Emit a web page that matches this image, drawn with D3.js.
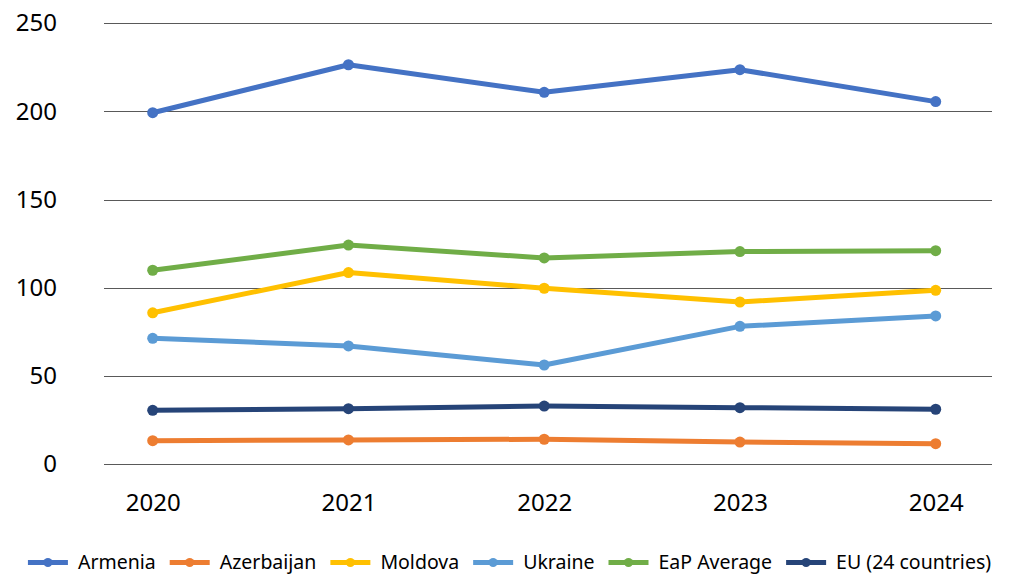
<!DOCTYPE html>
<html>
<head>
<meta charset="utf-8">
<script src="https://cdn.jsdelivr.net/npm/d3@7"></script>
<style>
  html, body { margin: 0; padding: 0; background: #fff; }
  svg { display: block; font-family: "Noto Sans", "Open Sans", sans-serif; }
</style>
</head>
<body>
<svg id="chart" width="1011" height="576"></svg>
<script>
const years = ["2020", "2021", "2022", "2023", "2024"];
const seriesNames = ["Armenia", "Azerbaijan", "Moldova", "Ukraine", "EaP Average", "EU (24 countries)"];
const armenia    = [199.3, 226.5, 210.9, 223.7, 205.6];
const azerbaijan = [13.4, 13.8, 14.2, 12.6, 11.7];
const moldova    = [85.9, 108.7, 99.8, 92.0, 98.6];
const ukraine    = [71.4, 67.1, 56.3, 78.2, 84.1];
const eapAverage = [110.0, 124.3, 117.0, 120.6, 121.1];
const eu24       = [30.6, 31.5, 33.0, 32.1, 31.2];
const yTicks = [0, 50, 100, 150, 200, 250];
const colors = ["#4472C4", "#ED7D31", "#FFC000", "#5B9BD5", "#70AD47", "#264478"];

const seriesValues = [armenia, azerbaijan, moldova, ukraine, eapAverage, eu24];
const series = seriesNames.map((name, i) => ({ name, color: colors[i], values: seriesValues[i] }));

const svg = d3.select("#chart");
const gridLeft = 104, gridRight = 992;
const yTop = 23.3, yBottom = 464.3;

const x = d3.scalePoint().domain(years).range([152.7, 935.7]);
const y = d3.scaleLinear().domain([0, 250]).range([yBottom, yTop]);

// gridlines
svg.append("g").selectAll("line").data(yTicks).join("line")
  .attr("x1", gridLeft).attr("x2", gridRight)
  .attr("y1", d => Math.round(y(d)) + 0.5).attr("y2", d => Math.round(y(d)) + 0.5)
  .attr("stroke", "#595959").attr("stroke-width", 1);

// y axis labels
const yAxis = d3.axisLeft(y).tickValues(yTicks).tickSize(0).tickPadding(0);
const gy = svg.append("g").attr("transform", `translate(57,0)`).call(yAxis);
gy.select(".domain").remove();
gy.selectAll("text").attr("font-size", 24).attr("fill", "#000")
  .attr("font-family", "Noto Sans, Open Sans, sans-serif");

// x axis labels
const xAxis = d3.axisBottom(x).tickSize(0).tickPadding(0);
const gx = svg.append("g").attr("transform", `translate(0,494)`).call(xAxis);
gx.select(".domain").remove();
gx.selectAll("text").attr("font-size", 24).attr("fill", "#000")
  .attr("font-family", "Noto Sans, Open Sans, sans-serif");

// lines
const line = d3.line().x((d, i) => x(years[i])).y(d => y(d));
const gLines = svg.append("g");
series.forEach(s => {
  gLines.append("path").datum(s.values)
    .attr("d", line).attr("fill", "none")
    .attr("stroke", s.color).attr("stroke-width", 5)
    .attr("stroke-linejoin", "round").attr("stroke-linecap", "round");
  gLines.append("g").selectAll("circle").data(s.values).join("circle")
    .attr("cx", (d, i) => x(years[i])).attr("cy", d => y(d))
    .attr("r", 5.5).attr("fill", s.color);
});

// legend
const legend = svg.append("g");
const ly = 562.5;
const items = [];
series.forEach(s => {
  const g = legend.append("g");
  g.append("line").attr("x1", 0).attr("x2", 40).attr("y1", ly).attr("y2", ly)
    .attr("stroke", s.color).attr("stroke-width", 5);
  g.append("circle").attr("cx", 20).attr("cy", ly).attr("r", 4.5).attr("fill", s.color);
  const t = g.append("text").attr("x", 50).attr("y", ly).attr("dy", "0.35em")
    .attr("font-size", 19.5).attr("fill", "#000").text(s.name);
  const w = 50 + t.node().getComputedTextLength();
  items.push({ g, w });
});
const gap = 14;
const total = d3.sum(items, d => d.w) + gap * (items.length - 1);
let start = (29 + 990) / 2 - total / 2;
items.forEach(it => {
  it.g.attr("transform", `translate(${start},0)`);
  start += it.w + gap;
});
</script>
</body>
</html>
